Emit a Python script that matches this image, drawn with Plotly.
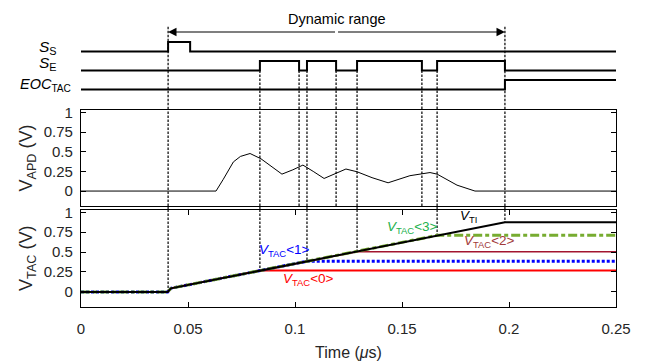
import numpy as np
import plotly.graph_objects as go

# ---------------- data ----------------
x_ticks = [0, 0.05, 0.1, 0.15, 0.2, 0.25]
x_tick_text = ["0", "0.05", "0.1", "0.15", "0.2", "0.25"]
y_ticks = [0, 0.25, 0.5, 0.75, 1]
y_tick_text = ["0", "0.25", "0.5", "0.75", "1"]

# digital signals (time in us, logic level)
t_ss = [0, 0.0407, 0.051, 0.25]
v_ss = [0, 1, 0, 0]
t_se = [0, 0.0836, 0.1019, 0.1056, 0.1192, 0.129, 0.1593, 0.1664, 0.1981, 0.25]
v_se = [0, 1, 0, 1, 0, 1, 0, 1, 0, 0]
t_eoc = [0, 0.1981, 0.25]
v_eoc = [0, 1, 1]

# APD voltage
t_apd = [0, 0.0631, 0.0665, 0.0712, 0.0745, 0.079, 0.0841, 0.089, 0.0939, 0.099,
         0.1037, 0.1085, 0.1136, 0.1238, 0.129, 0.136, 0.1435, 0.1537, 0.1631,
         0.1664, 0.1757, 0.1841, 0.25]
v_apd = [0, 0, 0.15, 0.37, 0.44, 0.477, 0.41, 0.31, 0.215, 0.27,
         0.33, 0.25, 0.16, 0.28, 0.245, 0.17, 0.105, 0.195, 0.235,
         0.215, 0.075, 0.0, 0]

# TAC ramp V_TI
t_ti = [0, 0.0405, 0.042, 0.1981, 0.25]
v_ti = [0, 0, 0.045, 0.875, 0.875]

# sampled TAC outputs
tac_sample_t = [0.0836, 0.1056, 0.129, 0.1664]
tac_hold_v = [0.27, 0.385, 0.505, 0.71]

dyn_start, dyn_end = 0.0407, 0.1981

# ---------------- styling ----------------
BLACK = "#000000"
NARROW = "Liberation Sans Narrow, Arial Narrow, Liberation Sans, Arial, sans-serif"
REG = "Liberation Sans, Arial, sans-serif"

W, H = 647, 361
ml, mr, mt, mb = 81, 31, 0, 54
ph = H - mt - mb  # 307
pw = W - ml - mr


def frac(py):
    return (ph - (py - mt)) / ph


def xfrac(px):
    return (px - ml) / pw


bot_dom = [0, frac(209.5)]
mid_dom = [frac(206), frac(110)]
top_dom = [frac(110), 1]
top_range = [-2.16, 9.42]
mid_range = [-0.19, 1.03]
bot_range = [-0.19, 1.035]

fig = go.Figure()

# ---- top panel: digital signals (offset levels) ----
offs = {"ss": 4, "se": 2, "eoc": 0}
for t, v, o in [(t_ss, v_ss, offs["ss"]), (t_se, v_se, offs["se"]), (t_eoc, v_eoc, offs["eoc"])]:
    fig.add_trace(go.Scatter(x=t, y=[o + vv for vv in v], mode="lines", line_shape="hv",
                             line=dict(color=BLACK, width=2), xaxis="x3", yaxis="y3",
                             showlegend=False, hoverinfo="skip"))

# vertical dashed marker lines
rise_se = [t_se[i] for i in range(1, len(t_se) - 1) if v_se[i] == 1]
fall_se = [t_se[i] for i in range(1, len(t_se) - 1) if v_se[i] == 0 and t_se[i] != dyn_end]
long_lines = [dyn_start, dyn_end]
to_bottom = [dyn_start] + rise_se + [dyn_end]

dash = dict(color=BLACK, width=1.2, dash="2.5px,1.5px")

xs, ys = [], []
for t in long_lines:
    xs += [t, t, None]; ys += [6.6, top_range[0], None]
for t in rise_se + fall_se:
    xs += [t, t, None]; ys += [offs["se"], top_range[0], None]
fig.add_trace(go.Scatter(x=xs, y=ys, mode="lines", line=dash, xaxis="x3", yaxis="y3",
                         showlegend=False, hoverinfo="skip"))

xs, ys = [], []
for t in long_lines + rise_se + fall_se:
    xs += [t, t, None]; ys += [mid_range[0], mid_range[1], None]
fig.add_trace(go.Scatter(x=xs, y=ys, mode="lines", line=dash, xaxis="x2", yaxis="y2",
                         showlegend=False, hoverinfo="skip"))

xs, ys = [], []
for t in to_bottom:
    xs += [t, t, None]; ys += [bot_range[1], float(np.interp(t, t_ti, v_ti)), None]
fig.add_trace(go.Scatter(x=xs, y=ys, mode="lines", line=dash, xaxis="x", yaxis="y",
                         showlegend=False, hoverinfo="skip"))

shapes = []
for t in to_bottom:
    shapes.append(dict(type="line", xref="x", yref="paper", x0=t, x1=t,
                       y0=bot_dom[1], y1=mid_dom[0], line=dash))

# ---- middle panel: V_APD ----
fig.add_trace(go.Scatter(x=t_apd, y=v_apd, mode="lines", line=dict(color=BLACK, width=1),
                         xaxis="x2", yaxis="y2", showlegend=False, hoverinfo="skip"))

# ---- bottom panel: TAC ----
tac_styles = [
    dict(color="#FF0000", width=2),
    dict(color="#0000FF", width=3, dash="3px,2px"),
    dict(color="#A2142F", width=1.5),
    dict(color="#77AC30", width=3, dash="9px,3px,4px,3px"),
]
for ts, hv, st in zip(tac_sample_t, tac_hold_v, tac_styles):
    tx = [t for t in t_ti if t < ts] + [ts, t_ti[-1]]
    ty = [v for t, v in zip(t_ti, v_ti) if t < ts] + [hv, hv]
    fig.add_trace(go.Scatter(x=tx, y=ty, mode="lines", line=st, xaxis="x", yaxis="y",
                             showlegend=False, hoverinfo="skip"))

fig.add_trace(go.Scatter(x=t_ti, y=v_ti, mode="lines", line=dict(color=BLACK, width=2),
                         xaxis="x", yaxis="y", showlegend=False, hoverinfo="skip"))

# ---- annotations ----
ann = []
mid_t = 0.5 * (dyn_start + dyn_end)
for head in (dyn_start, dyn_end):
    ann.append(dict(x=head, y=6.05, ax=mid_t, ay=6.05, xref="x3", yref="y3",
                    axref="x3", ayref="y3", text="", showarrow=True, arrowhead=2,
                    arrowsize=1.4, arrowwidth=1.2, arrowcolor=BLACK, standoff=0))
ann.append(dict(x=mid_t, y=7.45, xref="x3", yref="y3", text="Dynamic range",
                showarrow=False, font=dict(family=NARROW, size=14.5, color=BLACK)))

sig_lab = [("<i>S</i><sub>S</sub>", xfrac(59), 4.4, 15.5),
           ("<i>S</i><sub>E</sub>", xfrac(59), 2.75, 15.5),
           ("<i>EOC</i><sub>TAC</sub>", xfrac(73), 0.45, 14.5)]
for txt, x, y, s in sig_lab:
    ann.append(dict(x=x, y=y, xref="paper", yref="y3", text=txt, showarrow=False,
                    xanchor="right", font=dict(family=NARROW, size=s, color=BLACK)))

tac_lab = [
    ("<i>V</i><sub>TAC</sub>&lt;1&gt;", 0.0949, 0.52, "#0000FF"),
    ("<i>V</i><sub>TAC</sub>&lt;0&gt;", 0.1065, 0.16, "#FF0000"),
    ("<i>V</i><sub>TAC</sub>&lt;3&gt;", 0.1547, 0.81, "#22B14C"),
    ("<i>V</i><sub>TI</sub>", 0.1813, 0.95, BLACK),
    ("<i>V</i><sub>TAC</sub>&lt;2&gt;", 0.1911, 0.63, "#A23A3A"),
]
for txt, x, y, c in tac_lab:
    ann.append(dict(x=x, y=y, xref="x", yref="y", text=txt, showarrow=False,
                    font=dict(family=NARROW, size=13.5, color=c)))

axis_common = dict(showline=True, linecolor=BLACK, linewidth=1.2, mirror="ticks",
                   ticks="inside", ticklen=5, tickcolor=BLACK, tickwidth=1,
                   showgrid=False, zeroline=False, automargin=False,
                   tickfont=dict(family=REG, size=15, color="#262626"))

fig.update_layout(
    width=W, height=H, margin=dict(l=ml, r=mr, t=mt, b=mb, autoexpand=False),
    paper_bgcolor="white", plot_bgcolor="white",
    xaxis=dict(axis_common, anchor="y", range=[0, 0.25], tickvals=x_ticks,
               ticktext=x_tick_text, ticklabelstandoff=8,
               title=dict(text="Time (<i>μ</i>s)", standoff=10,
                          font=dict(family=REG, size=16, color="#262626"))),
    yaxis=dict(axis_common, anchor="x", domain=bot_dom, range=bot_range,
               tickvals=y_ticks, ticktext=y_tick_text, ticklabelstandoff=4,
               title=dict(text="V<sub>TAC</sub> (V)", standoff=6,
                          font=dict(family=REG, size=18, color="#262626"))),
    xaxis2=dict(anchor="y2", range=[0, 0.25], showline=True, mirror=True,
                linecolor=BLACK, linewidth=1.2, ticks="", showticklabels=False,
                showgrid=False, zeroline=False, automargin=False),
    yaxis2=dict(axis_common, anchor="x2", domain=mid_dom, range=mid_range,
                tickvals=y_ticks, ticktext=y_tick_text, ticklabelstandoff=4,
                title=dict(text="V<sub>APD</sub> (V)", standoff=6,
                           font=dict(family=REG, size=18, color="#262626"))),
    xaxis3=dict(anchor="y3", range=[0, 0.25], visible=False),
    yaxis3=dict(anchor="x3", domain=top_dom, range=top_range, visible=False),
    annotations=ann, shapes=shapes,
)

fig.write_html("out.html", config={"displayModeBar": False},
               post_script="document.body.style.margin='0';document.body.style.padding='0';")
